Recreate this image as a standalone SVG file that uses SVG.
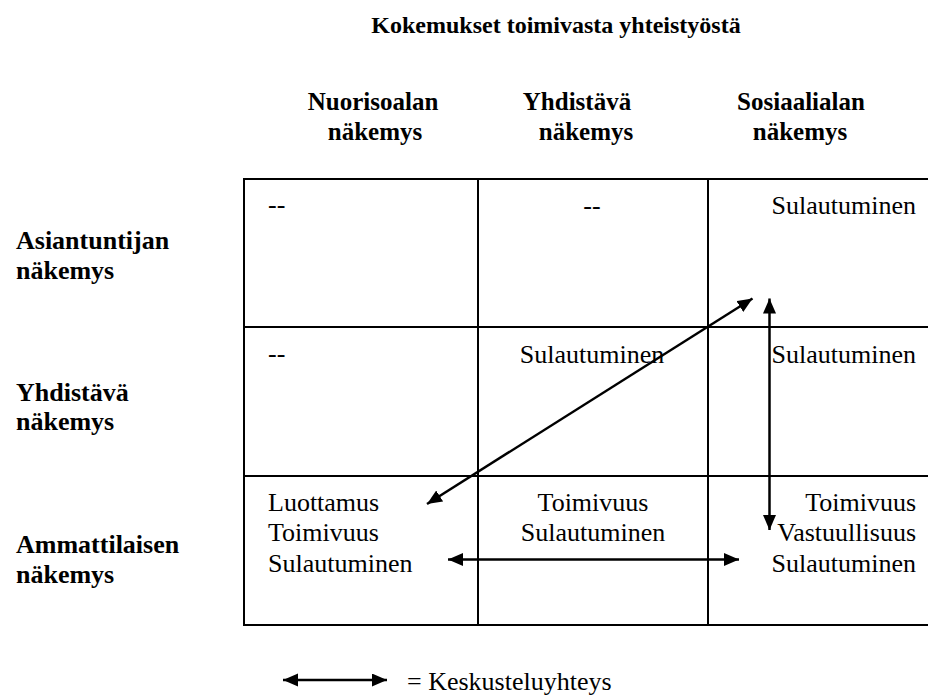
<svg xmlns="http://www.w3.org/2000/svg" width="928" height="695" viewBox="0 0 928 695" font-family="'Liberation Serif', 'DejaVu Serif', serif">
  <style>
    text { font-family: "Liberation Serif", "DejaVu Serif", serif; fill: #000; }
    .t { font-size: 24px; font-weight: bold; }
    .h { font-size: 25px; font-weight: bold; }
    .r { font-size: 26px; font-weight: bold; }
    .c { font-size: 26px; }
    .mid { text-anchor: middle; }
    .end { text-anchor: end; }
    .grid { stroke: #000; stroke-width: 2; fill: none; }
    .conn { stroke: #000; stroke-width: 2.5; fill: none; marker-start: url(#ah); marker-end: url(#ah); }
  </style>
  <defs>
    <marker id="ah" markerUnits="userSpaceOnUse" markerWidth="16" markerHeight="14" refX="15" refY="6.5" orient="auto-start-reverse">
      <path d="M0,0 L15,6.5 L0,13 Z" fill="#000"/>
    </marker>
  </defs>
  <rect width="928" height="695" fill="#fff"/>

  <g id="title">
    <text class="t mid" x="556" y="33">Kokemukset toimivasta yhteistyöstä</text>
  </g>

  <g id="col-headers">
    <g id="col-nuoriso">
      <text class="h mid" x="373" y="110">Nuorisoalan</text>
      <text class="h mid" x="375" y="140">näkemys</text>
    </g>
    <g id="col-yhdistava">
      <text class="h mid" x="577" y="110">Yhdistävä</text>
      <text class="h mid" x="586" y="140">näkemys</text>
    </g>
    <g id="col-sosiaali">
      <text class="h mid" x="801" y="110">Sosiaalialan</text>
      <text class="h mid" x="800" y="140">näkemys</text>
    </g>
  </g>

  <g id="row-headers">
    <g id="row-asiantuntija">
      <text class="r" x="16" y="249">Asiantuntijan</text>
      <text class="r" x="16" y="279">näkemys</text>
    </g>
    <g id="row-yhdistava">
      <text class="r" x="16" y="401">Yhdistävä</text>
      <text class="r" x="16" y="430">näkemys</text>
    </g>
    <g id="row-ammattilainen">
      <text class="r" x="16" y="553">Ammattilaisen</text>
      <text class="r" x="16" y="583">näkemys</text>
    </g>
  </g>

  <g id="table-grid" class="grid">
    <path d="M244,179 H940 M244,327 H940 M244,476 H940 M244,625 H940"/>
    <path d="M244,178 V626 M478,178 V626 M708,178 V626"/>
  </g>

  <g id="cells">
    <g id="cell-1-1"><text class="c" x="268" y="213">--</text></g>
    <g id="cell-1-2"><text class="c mid" x="592" y="214">--</text></g>
    <g id="cell-1-3"><text class="c end" x="916" y="214">Sulautuminen</text></g>
    <g id="cell-2-1"><text class="c" x="268" y="362">--</text></g>
    <g id="cell-2-2"><text class="c mid" x="592" y="363">Sulautuminen</text></g>
    <g id="cell-2-3"><text class="c end" x="916" y="363">Sulautuminen</text></g>
    <g id="cell-3-1">
      <text class="c" x="268" y="511">Luottamus</text>
      <text class="c" x="268" y="541">Toimivuus</text>
      <text class="c" x="268" y="572">Sulautuminen</text>
    </g>
    <g id="cell-3-2">
      <text class="c mid" x="593" y="511">Toimivuus</text>
      <text class="c mid" x="593" y="541">Sulautuminen</text>
    </g>
    <g id="cell-3-3">
      <text class="c end" x="916" y="511">Toimivuus</text>
      <text class="c end" x="916" y="541">Vastuullisuus</text>
      <text class="c end" x="916" y="572">Sulautuminen</text>
    </g>
  </g>

  <g id="connectors">
    <line class="conn" x1="427" y1="504" x2="752.5" y2="298.5"/>
    <line class="conn" x1="769.5" y1="298.5" x2="769.5" y2="530"/>
    <line class="conn" x1="448" y1="559.5" x2="739" y2="559.5"/>
  </g>

  <g id="legend">
    <line class="conn" x1="283" y1="680" x2="387" y2="680"/>
    <text class="c" x="407" y="690">= Keskusteluyhteys</text>
  </g>
</svg>
